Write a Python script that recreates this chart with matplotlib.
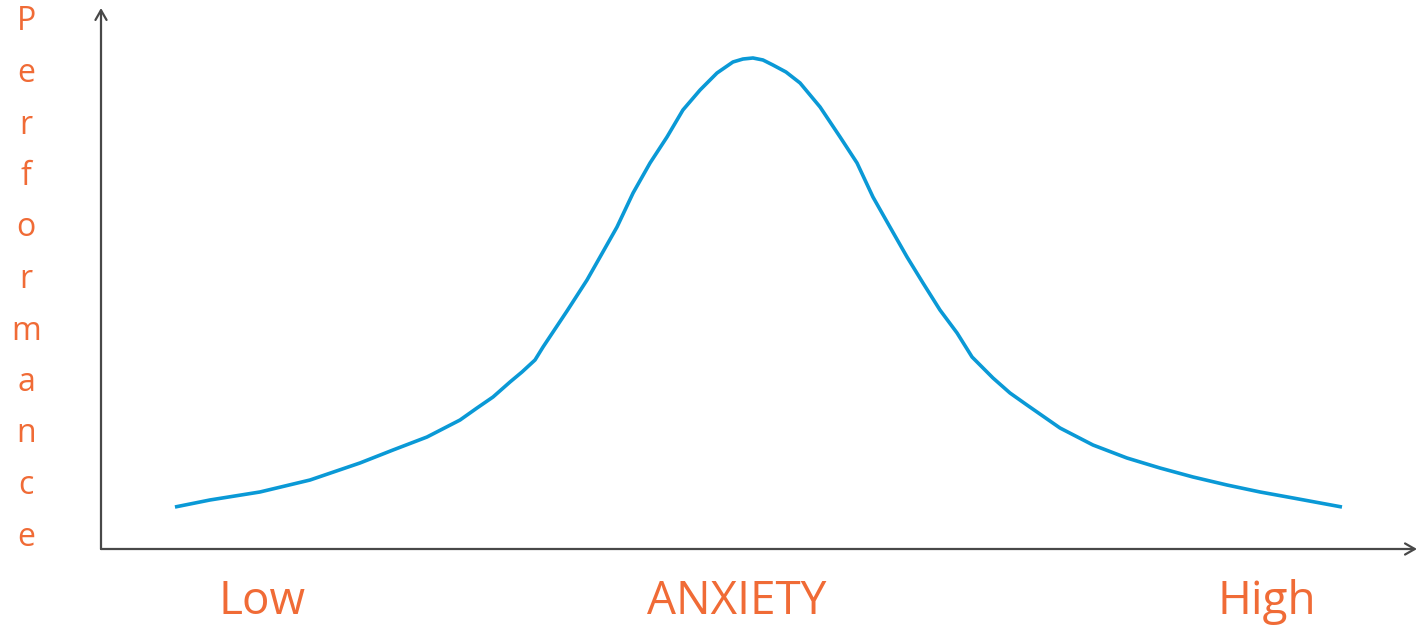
import matplotlib
matplotlib.use("Agg")
import matplotlib.pyplot as plt

# Data (anxiety 0-100 along x, performance 0-100 along y)
anxiety = [5.62, 8.28, 12.08, 15.88, 19.68, 22.19, 24.77, 27.28, 28.57, 29.79,
           31.08, 31.99, 32.98, 33.59, 35.41, 36.93, 37.92, 39.21, 40.43, 41.72,
           43.01, 44.22, 45.52, 46.81, 48.02, 48.78, 49.54, 50.30, 51.06, 52.05,
           53.12, 54.64, 56.16, 57.45, 58.66, 59.95, 61.25, 62.46, 63.75, 65.05,
           66.19, 67.78, 69.07, 70.36, 72.87, 75.38, 77.96, 80.47, 82.98, 85.56,
           88.07, 90.58, 94.30]
performance = [7.76, 9.06, 10.54, 12.75, 15.90, 18.30, 20.70, 23.84, 26.06, 28.10,
               30.87, 32.72, 34.94, 37.34, 43.99, 49.72, 53.97, 59.52, 65.80, 71.35,
               76.16, 81.15, 84.84, 87.99, 90.02, 90.57, 90.76, 90.39, 89.46, 88.17,
               86.14, 81.70, 76.16, 71.35, 65.06, 59.52, 53.97, 49.17, 44.18, 39.93,
               35.49, 31.61, 28.84, 26.62, 22.37, 19.22, 16.82, 14.97, 13.31, 11.83,
               10.54, 9.43, 7.76]
x_labels = ["Low", "ANXIETY", "High"]
y_label = "Performance"

W, H = 1419, 627
fig = plt.figure(figsize=(W / 100, H / 100), dpi=100)
ox, oy = 101, 549      # axis origin in pixels
tipx, tipy = 1417, 8   # arrow tips in pixels
ax = fig.add_axes([ox / W, 1 - oy / H, (tipx - ox) / W, (oy - tipy) / H])
ax.set_xlim(0, 100)
ax.set_ylim(0, 100)
ax.axis("off")

axis_color = "#484848"
arrow = "->,head_length=0.7,head_width=0.4"
ax.annotate("", xy=(1, 0), xytext=(0, 0), xycoords="axes fraction",
            arrowprops=dict(arrowstyle=arrow, color=axis_color, lw=1.6,
                            shrinkA=0, shrinkB=0))
ax.annotate("", xy=(0, 1), xytext=(0, 0), xycoords="axes fraction",
            arrowprops=dict(arrowstyle=arrow, color=axis_color, lw=1.6,
                            shrinkA=0, shrinkB=0))

ax.plot(anxiety, performance, color="#0a99d6", lw=2.6,
        solid_joinstyle="round", solid_capstyle="butt")

orange = "#F06B36"
font = ["Open Sans", "DejaVu Sans"]
label_x = [262, 737, 1267]
for lab, px in zip(x_labels, label_x):
    fig.text(px / W, 1 - 602 / H, lab, ha="center", va="center",
             fontsize=33, color=orange, family=font)

letter_y0, letter_step = 22, 51.5
for i, ch in enumerate(y_label):
    fig.text(26 / W, 1 - (letter_y0 + i * letter_step) / H, ch,
             ha="center", va="center", fontsize=23, color=orange, family=font)

fig.savefig("out.png", dpi=100, facecolor="white")
